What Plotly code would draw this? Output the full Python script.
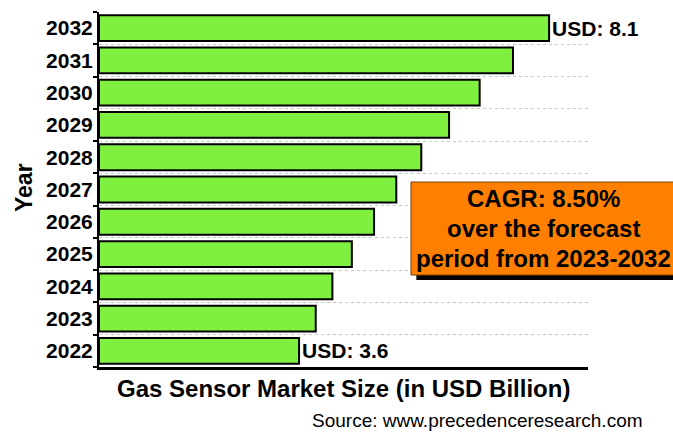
import plotly.graph_objects as go

years = ["2022", "2023", "2024", "2025", "2026", "2027", "2028", "2029", "2030", "2031", "2032"]
values = [3.6, 3.9, 4.2, 4.55, 4.95, 5.35, 5.8, 6.3, 6.85, 7.45, 8.1]
labels = ["USD: 3.6", "", "", "", "", "", "", "", "", "", "USD: 8.1"]
cagr_lines = ["CAGR: 8.50%", "over the forecast", "period from 2023-2032"]
x_title = "Gas Sensor Market Size (in USD Billion)"
y_title = "Year"
source = "Source: www.precedenceresearch.com"

FONT = "Liberation Sans, Arial, sans-serif"

fig = go.Figure(go.Bar(
    x=values, y=years, orientation="h",
    marker=dict(color="#80F040", line=dict(color="black", width=2)),
    text=labels, textposition="outside", cliponaxis=False,
    textfont=dict(family=FONT, size=21, color="black", weight="bold"),
    width=0.8,
))

fig.update_layout(
    width=673, height=432,
    margin=dict(l=99, r=85, t=12, b=65),
    paper_bgcolor="white", plot_bgcolor="white",
    showlegend=False,
    font=dict(family=FONT, color="black"),
    xaxis=dict(range=[0, 8.8], showticklabels=False, showgrid=False, zeroline=False,
               showline=True, linecolor="black", linewidth=3, ticks=""),
    yaxis=dict(type="category", categoryorder="array", categoryarray=years,
               tickson="boundaries", ticks="outside", ticklen=4, tickwidth=2, tickcolor="black",
               showgrid=True, gridcolor="#c8c8c8", griddash="dot", gridwidth=1,
               showline=True, linecolor="black", linewidth=2,
               tickfont=dict(family=FONT, size=21, color="black", weight="bold")),
)

# CAGR box with shadow
fig.add_shape(type="rect", xref="paper", yref="paper", x0=0.649, x1=1.25, y0=0.245, y1=0.508,
              fillcolor="black", line=dict(width=0), layer="above")
fig.add_shape(type="rect", xref="paper", yref="paper", x0=0.638, x1=1.25, y0=0.259, y1=0.521,
              fillcolor="#FF8000", line=dict(color="#7a3d00", width=1), layer="above")

line_y = [198, 228, 258]
for txt, py in zip(cagr_lines, line_y):
    fig.add_annotation(text=txt, xref="paper", yref="paper", x=(543 - 99) / 489,
                       y=(367 - py) / 355, xanchor="center", yanchor="middle", showarrow=False,
                       font=dict(family=FONT, size=24, color="black", weight="bold"))

fig.add_annotation(text=x_title, xref="paper", yref="paper", x=(343 - 99) / 489,
                   y=(367 - 388) / 355, xanchor="center", yanchor="middle", showarrow=False,
                   font=dict(family=FONT, size=24, color="black", weight="bold"))
fig.add_annotation(text=y_title, xref="paper", yref="paper", x=(24 - 99) / 489,
                   y=(367 - 188) / 355, xanchor="center", yanchor="middle", showarrow=False,
                   textangle=-90,
                   font=dict(family=FONT, size=23, color="black", weight="bold"))
fig.add_annotation(text=source, xref="paper", yref="paper", x=(645 - 99) / 489,
                   y=(367 - 420) / 355, xanchor="right", yanchor="middle", showarrow=False,
                   font=dict(family=FONT, size=19, color="black"))

fig.write_html("out.html")
